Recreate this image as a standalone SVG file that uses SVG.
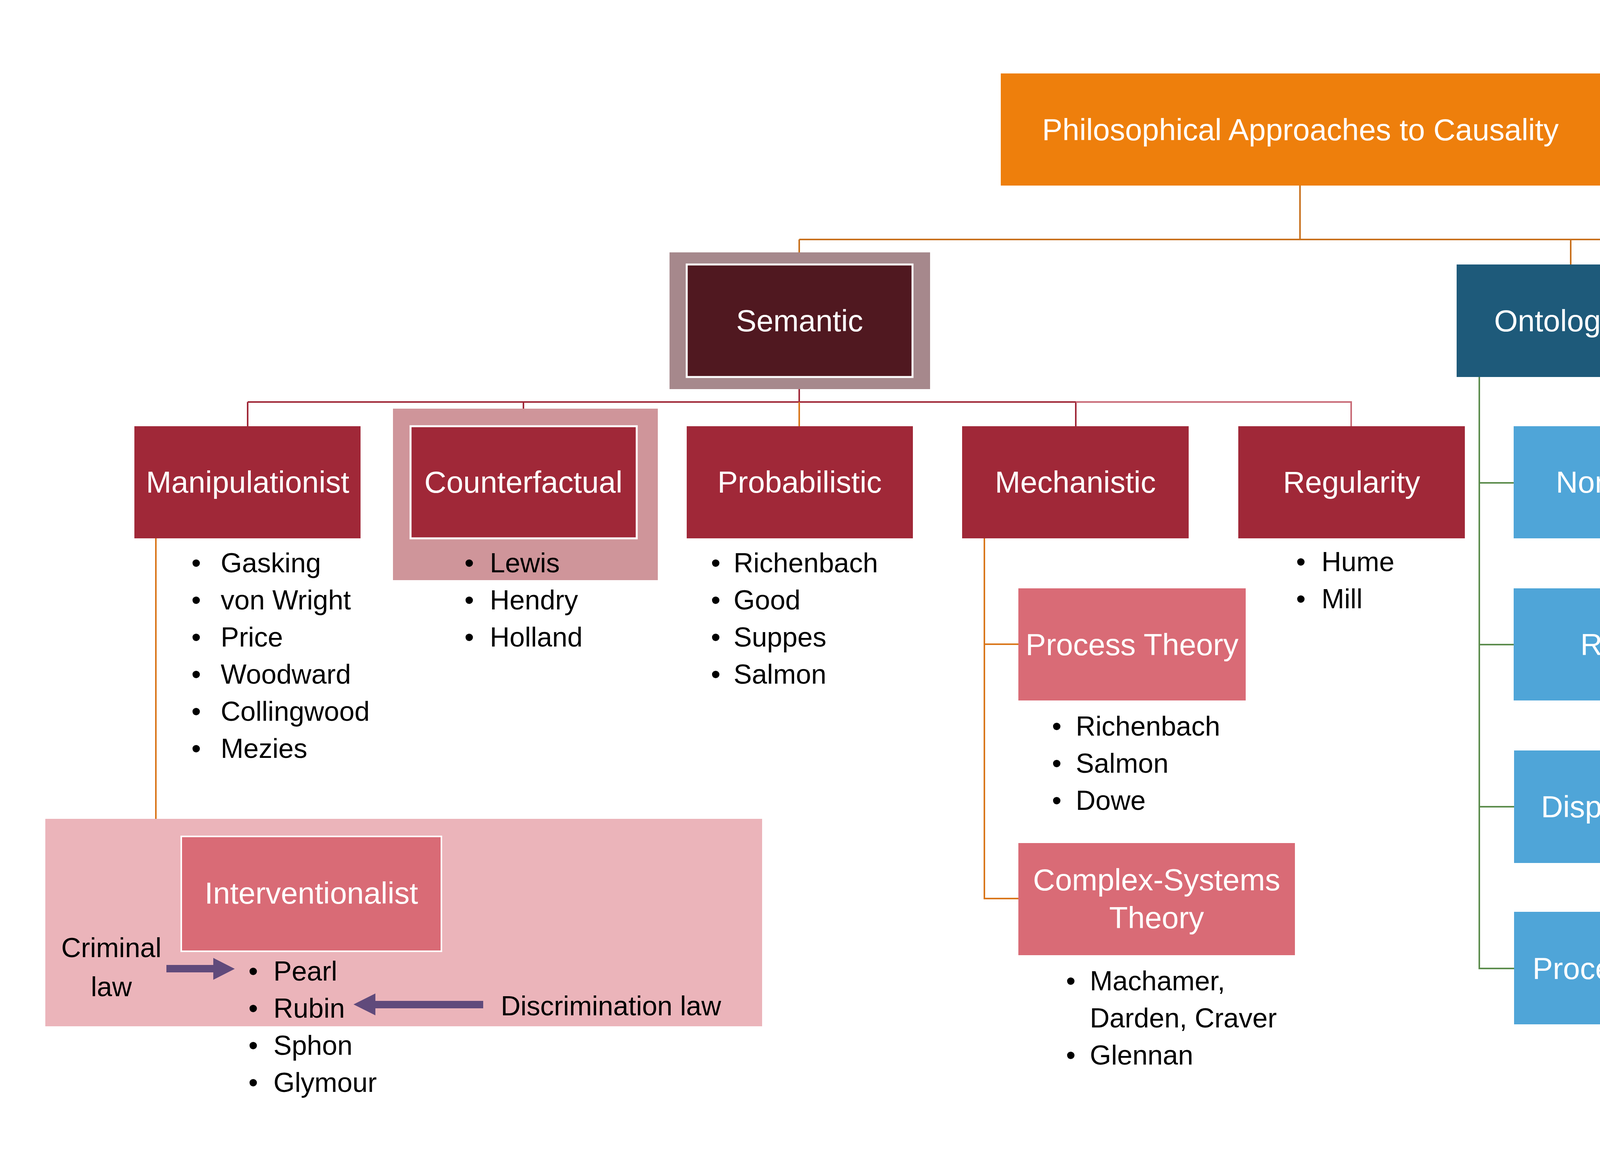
<svg xmlns="http://www.w3.org/2000/svg" width="6000" height="3000" viewBox="0 0 6000 3000">
<style>
text{font-family:"Liberation Sans",Arial,sans-serif}
.lbl{font-size:78px;fill:#fff;text-anchor:middle}
.bl{font-size:70px;fill:#000}
.note{font-size:70px;fill:#000}
.c{fill:none;stroke-width:4}
.org{stroke:#C8701C}
.org2{stroke:#D9761A}
.red{stroke:#A02838}
.redl{stroke:#C86A76}
.grn{stroke:#5B8C4C}
.pur{stroke:#604A7B}
.lgr{stroke:#8DB47D}
.l2{fill:#A02838}
.sub{fill:#D96B76}
.ont{fill:#4FA5D8}
.kan{fill:#A08AB7}
.skp{fill:#528541}
</style>
<rect width="6000" height="3000" fill="#fff"/>
<g id="connectors">
<path class="c org" d="M3328 475V613M2046 613H5434M2046 613V674M4021 613V677M4727 613V677M5434 613V677"/>
<path class="c red" d="M2046 969V1029M634 1029H2754M634 1029V1091M1340 1029V1087M2754 1029V1091"/>
<path class="c redl" d="M2754 1029H3459V1091"/>
<path class="c org2" d="M2046 1029V1091"/>
<path class="c org2" d="M399 1378V2287H464"/>
<path class="c org2" d="M2520 1378V2300H2607M2520 1649H2607"/>
<path class="c grn" d="M3787 965V2479H3876M3787 1236H3875M3787 1650H3875M3787 2065H3876"/>
<path class="c pur" d="M4493 965V1650H4583M4493 1236H4583"/>
<path class="c lgr" d="M5200 965V1650H5290M5200 1236H5290"/>
</g>
<g id="interventionalist-zone"><rect x="116" y="2096" width="1835" height="531" fill="#EBB4BA"/></g>
<g id="root"><rect x="2562" y="188" width="1534" height="287" fill="#EE7F0C"/><text class="lbl" x="3329" y="359">Philosophical Approaches to Causality</text></g>
<g id="semantic"><rect x="1714" y="646" width="667" height="350" fill="#A6888C"/><rect x="1758" y="677" width="578" height="288" fill="#501820" stroke="#fff" stroke-width="5"/><text class="lbl" x="2047" y="848">Semantic</text></g>
<g id="ontological"><rect x="3729" y="677" width="581" height="288" fill="#1E5A7A"/><text class="lbl" x="4020" y="848">Ontological</text></g>
<g id="kantian"><rect x="4437" y="677" width="581" height="288" fill="#604A7B"/><text class="lbl" x="4727" y="848">Kantian</text></g>
<g id="skepticism"><rect x="5144" y="677" width="579" height="288" fill="#3E6632"/><text class="lbl" x="5434" y="848">Skepticism</text></g>
<g id="manipulationist"><rect class="l2" x="344" y="1091" width="579" height="287"/><text class="lbl" x="634" y="1261">Manipulationist</text>
<text class="bl" x="490" y="1465">•</text><text class="bl" x="565" y="1465">Gasking</text>
<text class="bl" x="490" y="1560">•</text><text class="bl" x="565" y="1560">von Wright</text>
<text class="bl" x="490" y="1655">•</text><text class="bl" x="565" y="1655">Price</text>
<text class="bl" x="490" y="1750">•</text><text class="bl" x="565" y="1750">Woodward</text>
<text class="bl" x="490" y="1845">•</text><text class="bl" x="565" y="1845">Collingwood</text>
<text class="bl" x="490" y="1940">•</text><text class="bl" x="565" y="1940">Mezies</text></g>
<g id="counterfactual"><rect x="1006" y="1046" width="678" height="439" fill="#CF959A"/><rect class="l2" x="1051" y="1091" width="579" height="287" stroke="#fff" stroke-width="5"/><text class="lbl" x="1340" y="1261">Counterfactual</text>
<text class="bl" x="1189" y="1465">•</text><text class="bl" x="1254" y="1465">Lewis</text>
<text class="bl" x="1189" y="1560">•</text><text class="bl" x="1254" y="1560">Hendry</text>
<text class="bl" x="1189" y="1655">•</text><text class="bl" x="1254" y="1655">Holland</text></g>
<g id="probabilistic"><rect class="l2" x="1758" y="1091" width="579" height="287"/><text class="lbl" x="2047" y="1261">Probabilistic</text>
<text class="bl" x="1820" y="1465">•</text><text class="bl" x="1878" y="1465">Richenbach</text>
<text class="bl" x="1820" y="1560">•</text><text class="bl" x="1878" y="1560">Good</text>
<text class="bl" x="1820" y="1655">•</text><text class="bl" x="1878" y="1655">Suppes</text>
<text class="bl" x="1820" y="1750">•</text><text class="bl" x="1878" y="1750">Salmon</text></g>
<g id="mechanistic"><rect class="l2" x="2463" y="1091" width="580" height="287"/><text class="lbl" x="2753" y="1261">Mechanistic</text></g>
<g id="regularity"><rect class="l2" x="3170" y="1091" width="580" height="287"/><text class="lbl" x="3460" y="1261">Regularity</text>
<text class="bl" x="3318" y="1462">•</text><text class="bl" x="3383" y="1462">Hume</text>
<text class="bl" x="3318" y="1557">•</text><text class="bl" x="3383" y="1557">Mill</text></g>
<g id="process-theory"><rect class="sub" x="2607" y="1506" width="582" height="287"/><text class="lbl" x="2898" y="1677">Process Theory</text>
<text class="bl" x="2693" y="1883">•</text><text class="bl" x="2754" y="1883">Richenbach</text>
<text class="bl" x="2693" y="1978">•</text><text class="bl" x="2754" y="1978">Salmon</text>
<text class="bl" x="2693" y="2073">•</text><text class="bl" x="2754" y="2073">Dowe</text></g>
<g id="complex-systems"><rect class="sub" x="2607" y="2158" width="708" height="287"/><text class="lbl" x="2961" y="2279">Complex-Systems</text><text class="lbl" x="2961" y="2376">Theory</text>
<text class="bl" x="2729" y="2535">•</text><text class="bl" x="2790" y="2535">Machamer,</text>
<text class="bl" x="2790" y="2630">Darden, Craver</text>
<text class="bl" x="2729" y="2725">•</text><text class="bl" x="2790" y="2725">Glennan</text></g>
<g id="interventionalist"><rect class="sub" x="464" y="2141" width="666" height="294" stroke="#fff" stroke-width="4"/><text class="lbl" x="797" y="2313">Interventionalist</text>
<text class="bl" x="636" y="2510">•</text><text class="bl" x="700" y="2510">Pearl</text>
<text class="bl" x="636" y="2605">•</text><text class="bl" x="700" y="2605">Rubin</text>
<text class="bl" x="636" y="2700">•</text><text class="bl" x="700" y="2700">Sphon</text>
<text class="bl" x="636" y="2795">•</text><text class="bl" x="700" y="2795">Glymour</text></g>
<g id="criminal-law"><text class="note" x="285" y="2450" text-anchor="middle">Criminal</text><text class="note" x="285" y="2550" text-anchor="middle">law</text>
<polygon points="426,2470 546,2470 546,2452 601,2480 546,2508 546,2489 426,2489" fill="#604A7B"/></g>
<g id="discrimination-law"><text class="note" x="1282" y="2599">Discrimination law</text>
<polygon points="1237,2562 961,2562 961,2543 905,2571 961,2599 961,2581 1237,2581" fill="#604A7B"/></g>
<g id="nominalist"><rect class="ont" x="3875" y="1091" width="581" height="287"/><text class="lbl" x="4165" y="1261">Nominalist</text></g>
<g id="realist"><rect class="ont" x="3875" y="1506" width="581" height="287"/><text class="lbl" x="4165" y="1676">Realist</text></g>
<g id="dispositional"><rect class="ont" x="3876" y="1921" width="580" height="288"/><text class="lbl" x="4166" y="2092">Dispositional</text></g>
<g id="process-theories"><rect class="ont" x="3876" y="2334" width="701" height="288"/><text class="lbl" x="4226" y="2506">Process Theories</text></g>
<g id="kants-view"><rect class="kan" x="4583" y="1091" width="580" height="287"/><text class="lbl" x="4873" y="1261">Kant’s view</text></g>
<g id="agency"><rect class="kan" x="4583" y="1506" width="580" height="287"/><text class="lbl" x="4873" y="1676">Agency</text></g>
<g id="russellian"><rect class="skp" x="5290" y="1091" width="579" height="287"/><text class="lbl" x="5579" y="1216">Russellian</text><text class="lbl" x="5579" y="1312">republicanism</text></g>
<g id="pluralism"><rect class="skp" x="5290" y="1506" width="579" height="287"/><text class="lbl" x="5579" y="1629">Pluralism and</text><text class="lbl" x="5579" y="1725">Thickism</text></g>
</svg>
